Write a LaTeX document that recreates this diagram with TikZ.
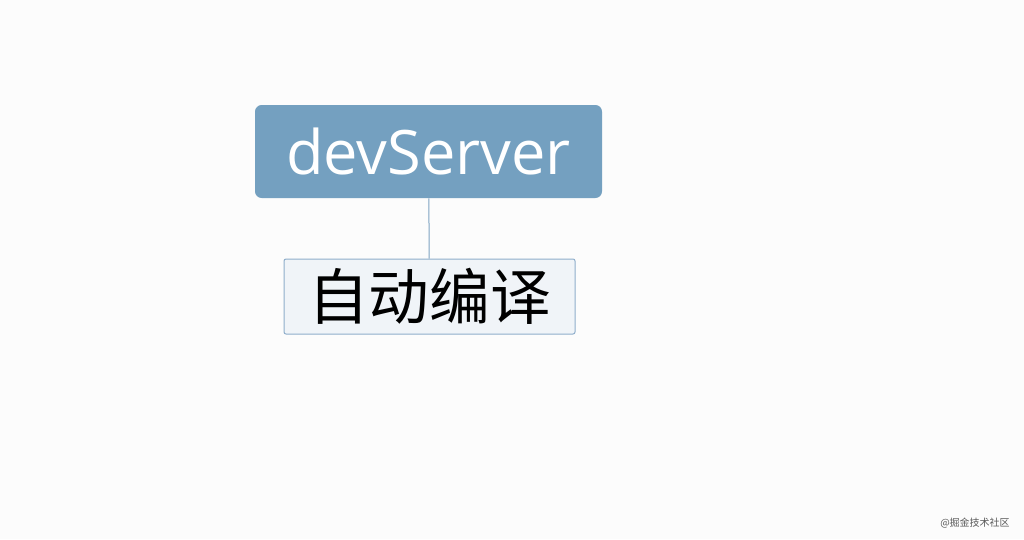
\documentclass[tikz,border=0pt]{standalone}
\usepackage{fontspec}
\setmainfont{Open Sans}
\newfontfamily\cjk{Noto Sans CJK SC}
\definecolor{bgcol}{HTML}{FCFCFC}
\definecolor{rootfill}{HTML}{74A0C0}
\definecolor{subfill}{HTML}{F0F4F8}
\definecolor{subline}{HTML}{8FAECB}
\definecolor{linkcol}{HTML}{7FA3C3}

\begin{document}
\begin{tikzpicture}[x=0.75pt, y=-0.75pt]
    \fill[bgcol] (0, 0) rectangle (1024, 539);

    \node[rectangle, fill=rootfill, rounded corners=5pt, minimum width=260.25pt, minimum height=69.75pt, text=white, font=\fontsize{46}{52}\selectfont] (root) at (428.5, 151.5) {devServer};
    \node[rectangle, draw=subline, line width=0.75pt, fill=subfill, rounded corners=1.5pt, minimum width=218.25pt, minimum height=56.25pt, font=\cjk\fontsize{45.5}{52}\selectfont] (compile) at (429.5, 296.5) {自动编译};

    % 连线
    \draw[draw=linkcol, line width=0.75pt] (root) -- (compile);

    \node[text=black!65, font=\cjk\fontsize{7.5}{8}\selectfont] (mark) at (975, 523) {@掘金技术社区};
\end{tikzpicture}
\end{document}
